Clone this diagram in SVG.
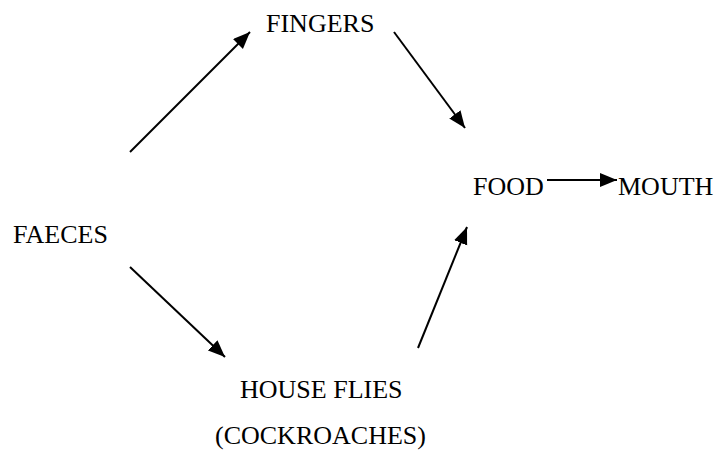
<svg xmlns="http://www.w3.org/2000/svg" width="718" height="451" viewBox="0 0 718 451">
  <style>
    .lbl { font-family: "Liberation Serif", "Times New Roman", serif; font-size: 26px; fill: #000; }
    .arr { stroke: #000; stroke-width: 2; fill: none; marker-end: url(#ah); }
  </style>
  <defs>
    <marker id="ah" markerUnits="userSpaceOnUse" markerWidth="18" markerHeight="15" refX="17" refY="7" orient="auto">
      <path d="M0,0 L17,7 L0,14 Z" fill="#000"/>
    </marker>
  </defs>
  <rect width="718" height="451" fill="#fff"/>
  <g id="faeces"><text class="lbl" x="13" y="243">FAECES</text></g>
  <g id="fingers"><text class="lbl" x="266" y="32">FINGERS</text></g>
  <g id="food"><text class="lbl" x="473" y="195">FOOD</text></g>
  <g id="mouth"><text class="lbl" x="618" y="195">MOUTH</text></g>
  <g id="houseflies">
    <text class="lbl" x="240" y="398">HOUSE FLIES</text>
    <text class="lbl" x="215" y="444">(COCKROACHES)</text>
  </g>
  <g id="connectors">
    <line class="arr" x1="130" y1="152" x2="250" y2="32"/>
    <line class="arr" x1="394" y1="32" x2="465" y2="128"/>
    <line class="arr" x1="547" y1="180" x2="617" y2="180"/>
    <line class="arr" x1="130" y1="267" x2="225" y2="357"/>
    <line class="arr" x1="418" y1="348" x2="467" y2="227"/>
  </g>
</svg>
